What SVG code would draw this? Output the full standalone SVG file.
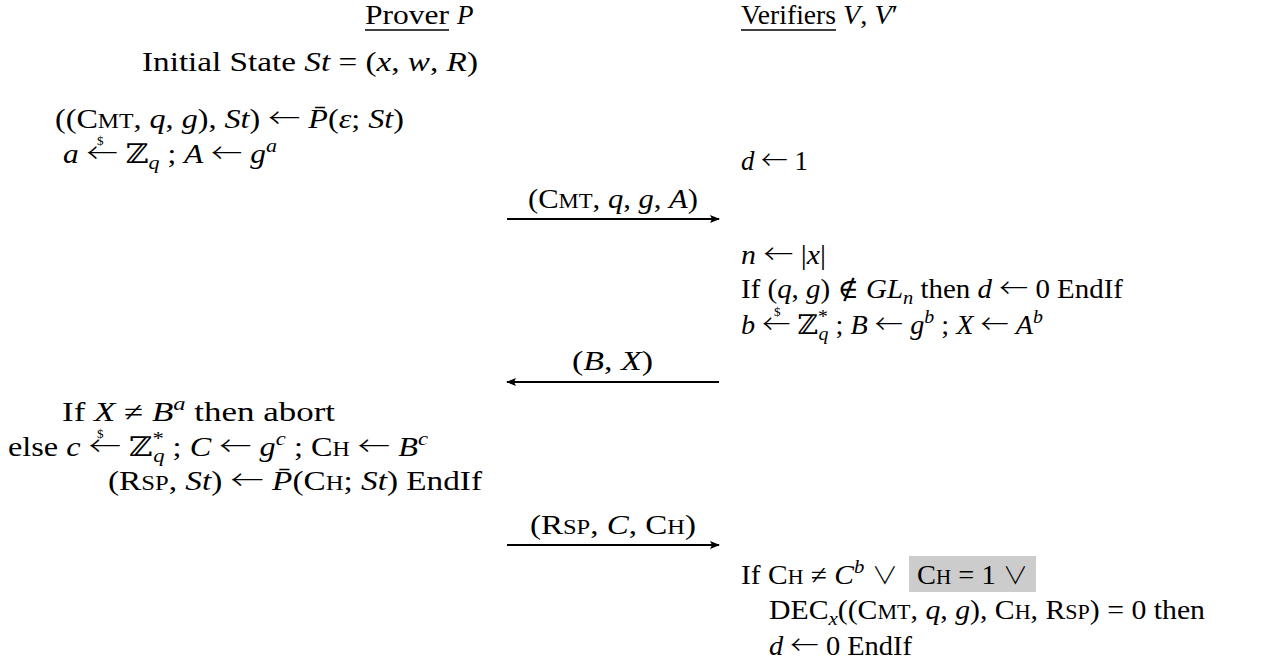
<svg xmlns="http://www.w3.org/2000/svg" width="1271" height="666" viewBox="0 0 1271 666">
<defs>
<style>
.t{font-family:"Liberation Serif","DejaVu Serif",serif;font-size:27px;fill:#000}
.i{font-style:italic}
.sc{font-size:20px}
.s{font-size:19px}
.ar{font-family:"Noto Sans CJK JP","DejaVu Sans",sans-serif;font-style:normal;font-weight:300}
.or{font-family:"Noto Sans CJK JP","DejaVu Sans",sans-serif;font-weight:300;font-size:24px}
.d{font-family:"Liberation Serif","DejaVu Serif",serif;font-size:13px;fill:#000}
.ul{stroke:#000;stroke-width:1.5}
.conn{stroke:#000;stroke-width:2;fill:none}
</style>
<marker id="ah" viewBox="0 0 10 8" refX="9" refY="4" markerWidth="10" markerHeight="8" markerUnits="userSpaceOnUse" orient="auto">
<path d="M0,0 L10,4 L0,8 L2,4 Z" fill="#000"/>
</marker>
</defs>
<rect width="1271" height="666" fill="#fff"/>

<g id="prover-header">
<text class="t" x="365" y="24" textLength="84" lengthAdjust="spacingAndGlyphs">Prover</text>
<line class="ul" x1="365" y1="30" x2="449" y2="30"/>
<text class="t i" x="457" y="24">P</text>
</g>

<g id="verifier-header">
<text class="t" x="741" y="24" textLength="95" lengthAdjust="spacingAndGlyphs">Verifiers</text>
<line class="ul" x1="741" y1="30" x2="836" y2="30"/>
<text class="t" x="843" y="24" textLength="55" lengthAdjust="spacingAndGlyphs"><tspan class="i">V</tspan>, <tspan class="i">V</tspan>′</text>
</g>

<g id="prover-init">
<text class="t" x="142" y="71" textLength="336" lengthAdjust="spacingAndGlyphs">Initial State <tspan class="i">St</tspan> = (<tspan class="i">x</tspan>, <tspan class="i">w</tspan>, <tspan class="i">R</tspan>)</text>
</g>

<g id="prover-commit">
<text class="t" x="55" y="128" textLength="349" lengthAdjust="spacingAndGlyphs">((C<tspan class="sc">MT</tspan>, <tspan class="i">q</tspan>, <tspan class="i">g</tspan>), <tspan class="i">St</tspan>) <tspan class="ar">←</tspan> <tspan class="i">P̄</tspan>(<tspan class="i">ε</tspan>; <tspan class="i">St</tspan>)</text>
<text class="t" x="63" y="163" textLength="214" lengthAdjust="spacingAndGlyphs"><tspan class="i">a</tspan> <tspan class="ar">←</tspan> ℤ<tspan class="s i" dy="6">q</tspan><tspan dy="-6"> ; </tspan><tspan class="i">A</tspan> <tspan class="ar">←</tspan> <tspan class="i">g</tspan><tspan class="s i" dy="-11">a</tspan></text>
<text class="d" x="97" y="145">$</text>
</g>

<g id="verifier-init">
<text class="t" x="741" y="170" textLength="67" lengthAdjust="spacingAndGlyphs"><tspan class="i">d</tspan> <tspan class="ar">←</tspan> 1</text>
</g>

<g id="verifier-challenge">
<text class="t" x="741" y="264" textLength="85" lengthAdjust="spacingAndGlyphs"><tspan class="i">n</tspan> <tspan class="ar">←</tspan> |<tspan class="i">x</tspan>|</text>
<text class="t" x="741" y="298" textLength="382" lengthAdjust="spacingAndGlyphs">If (<tspan class="i">q</tspan>, <tspan class="i">g</tspan>) ∉ <tspan class="i">GL</tspan><tspan class="s i" dy="6">n</tspan><tspan dy="-6"> then </tspan><tspan class="i">d</tspan> <tspan class="ar">←</tspan> 0 EndIf</text>
<text class="t" x="741" y="334" textLength="302" lengthAdjust="spacingAndGlyphs"><tspan class="i">b</tspan> <tspan class="ar">←</tspan> ℤ<tspan class="s" dy="-11">*</tspan><tspan class="s i" dx="-9" dy="17">q</tspan><tspan dy="-6"> ; </tspan><tspan class="i">B</tspan> <tspan class="ar">←</tspan> <tspan class="i">g</tspan><tspan class="s i" dy="-11">b</tspan><tspan dy="11"> ; </tspan><tspan class="i">X</tspan> <tspan class="ar">←</tspan> <tspan class="i">A</tspan><tspan class="s i" dy="-11">b</tspan></text>
<text class="d" x="774" y="316">$</text>
</g>

<g id="prover-response">
<text class="t" x="62" y="421" textLength="273" lengthAdjust="spacingAndGlyphs">If <tspan class="i">X</tspan> ≠ <tspan class="i">B</tspan><tspan class="s i" dy="-11">a</tspan><tspan dy="11"> then abort</tspan></text>
<text class="t" x="8" y="456" textLength="420" lengthAdjust="spacingAndGlyphs">else <tspan class="i">c</tspan> <tspan class="ar">←</tspan> ℤ<tspan class="s" dy="-11">*</tspan><tspan class="s i" dx="-9" dy="17">q</tspan><tspan dy="-6"> ; </tspan><tspan class="i">C</tspan> <tspan class="ar">←</tspan> <tspan class="i">g</tspan><tspan class="s i" dy="-11">c</tspan><tspan dy="11"> ; C</tspan><tspan class="sc">H</tspan> <tspan class="ar">←</tspan> <tspan class="i">B</tspan><tspan class="s i" dy="-11">c</tspan></text>
<text class="d" x="97" y="438">$</text>
<text class="t" x="108" y="490" textLength="374" lengthAdjust="spacingAndGlyphs">(R<tspan class="sc">SP</tspan>, <tspan class="i">St</tspan>) <tspan class="ar">←</tspan> <tspan class="i">P̄</tspan>(C<tspan class="sc">H</tspan>; <tspan class="i">St</tspan>) EndIf</text>
</g>

<g id="verifier-decision">
<rect x="909" y="556" width="127" height="36" fill="#cccccc"/>
<text class="t" x="741" y="584" textLength="157" lengthAdjust="spacingAndGlyphs">If C<tspan class="sc">H</tspan> ≠ <tspan class="i">C</tspan><tspan class="s i" dy="-11">b</tspan><tspan dy="11"> </tspan><tspan class="or">∨</tspan></text>
<text class="t" x="917" y="584" textLength="111" lengthAdjust="spacingAndGlyphs">C<tspan class="sc">H</tspan> = 1 <tspan class="or">∨</tspan></text>
<text class="t" x="769" y="619" textLength="436" lengthAdjust="spacingAndGlyphs">DEC<tspan class="s i" dy="6">x</tspan><tspan dy="-6">((C</tspan><tspan class="sc">MT</tspan>, <tspan class="i">q</tspan>, <tspan class="i">g</tspan>), C<tspan class="sc">H</tspan>, R<tspan class="sc">SP</tspan>) = 0 then</text>
<text class="t" x="769" y="655" textLength="143" lengthAdjust="spacingAndGlyphs"><tspan class="i">d</tspan> <tspan class="ar">←</tspan> 0 EndIf</text>
</g>

<g id="connectors">
<line class="conn" x1="507" y1="219" x2="719" y2="219" marker-end="url(#ah)"/>
<text class="t" x="528" y="208" textLength="170" lengthAdjust="spacingAndGlyphs">(C<tspan class="sc">MT</tspan>, <tspan class="i">q</tspan>, <tspan class="i">g</tspan>, <tspan class="i">A</tspan>)</text>
<line class="conn" x1="719" y1="382" x2="507" y2="382" marker-end="url(#ah)"/>
<text class="t" x="572" y="370" textLength="81" lengthAdjust="spacingAndGlyphs">(<tspan class="i">B</tspan>, <tspan class="i">X</tspan>)</text>
<line class="conn" x1="507" y1="545" x2="719" y2="545" marker-end="url(#ah)"/>
<text class="t" x="530" y="534" textLength="166" lengthAdjust="spacingAndGlyphs">(R<tspan class="sc">SP</tspan>, <tspan class="i">C</tspan>, C<tspan class="sc">H</tspan>)</text>
</g>
</svg>
